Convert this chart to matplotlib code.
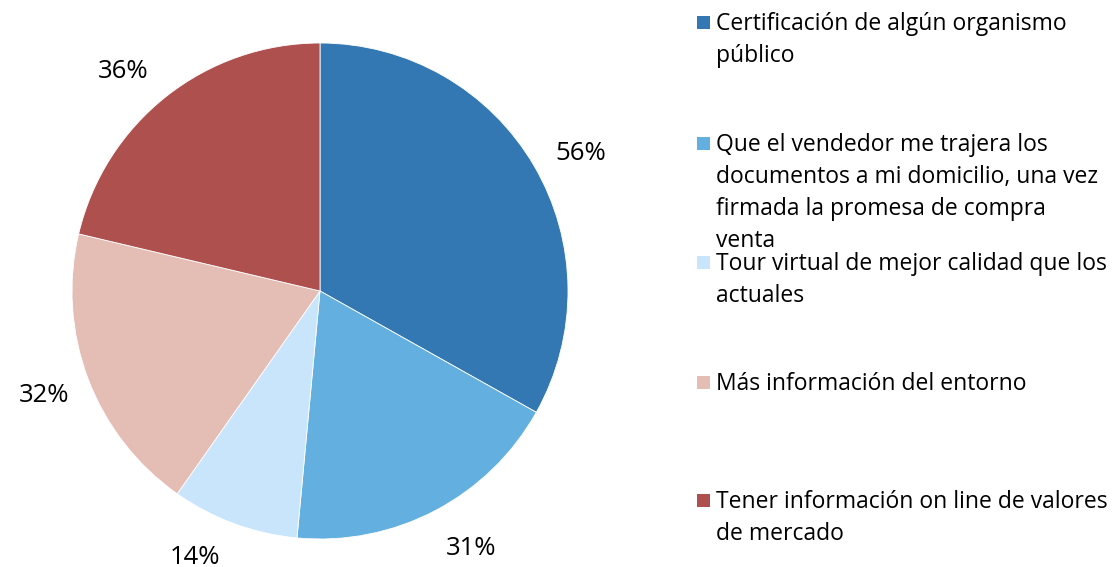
import matplotlib
matplotlib.use("Agg")
import matplotlib.pyplot as plt
from matplotlib.patches import Rectangle

plt.rcParams['font.family'] = ['Open Sans', 'DejaVu Sans']

# --- Data ---
categories = [
    "Certificación de algún organismo\npúblico",
    "Que el vendedor me trajera los\ndocumentos a mi domicilio, una vez\nfirmada la promesa de compra\nventa",
    "Tour virtual de mejor calidad que los\nactuales",
    "Más información del entorno",
    "Tener información on line de valores\nde mercado",
]
values = [56, 31, 14, 32, 36]
colors = ["#3378B3", "#63B0E0", "#C9E5FB", "#E4BDB5", "#AD504E"]

# small nudges (px) so the % labels sit where the original puts them
label_nudge = [(6, 12), (14, -4), (-23, -10), (0, 0), (-14, 12)]

fig = plt.figure(figsize=(11.17, 5.67), dpi=100)
W, H = 1117, 567

# pie centre ~ (320, 291) px, radius ~248 px
cx, cy, r = 320, 291, 248
ax = fig.add_axes([(cx - r) / W, 1 - (cy + r) / H, 2 * r / W, 2 * r / H])
wedges, texts = ax.pie(values, colors=colors, startangle=90, counterclock=False,
                       labels=[f"{v}%" for v in values], labeldistance=1.19,
                       wedgeprops=dict(linewidth=0.6, edgecolor="white"),
                       textprops=dict(fontsize=18.5, color="black"))
for t, (dx, dy) in zip(texts, label_nudge):
    x, y = t.get_position()
    t.set_position((x + dx / r, y - dy / r))
    t.set_ha("center")
    t.set_va("center")
ax.set_xlim(-1, 1)
ax.set_ylim(-1, 1)
ax.set_aspect("equal")
ax.axis("off")

# legend on the right
legend_y = [22, 143, 262, 382, 500]
for lab, col, y in zip(categories, colors, legend_y):
    fig.patches.append(Rectangle((697 / W, 1 - (y + 7) / H), 13 / W, 13 / H,
                                 transform=fig.transFigure, facecolor=col,
                                 edgecolor="none"))
    fig.text(716 / W, 1 - (y - 10) / H, lab, fontsize=16.5, va="top", ha="left",
             linespacing=1.45, color="black")

fig.savefig("out.png", dpi=100)
